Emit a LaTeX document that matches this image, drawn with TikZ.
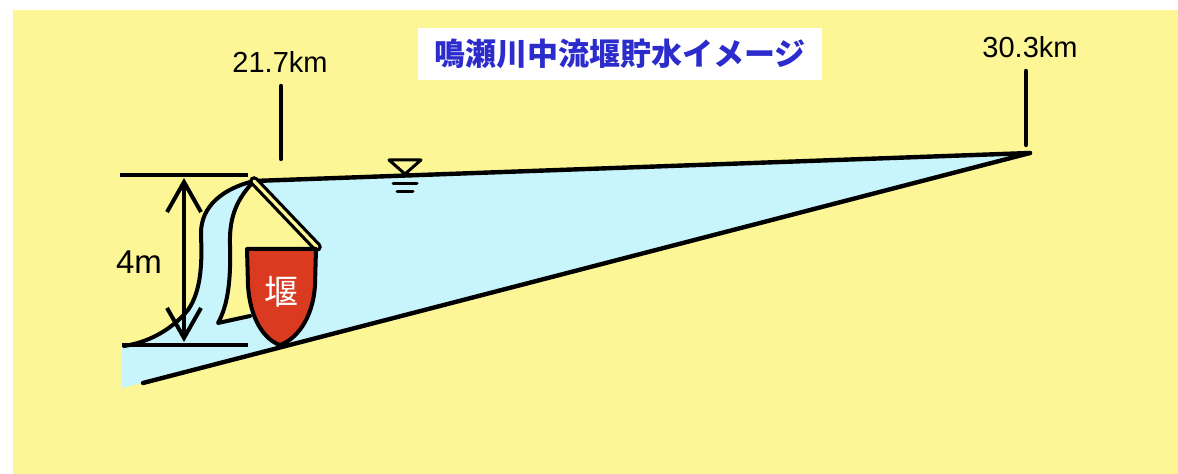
\documentclass[tikz,border=0pt]{standalone}
\usepackage{fontspec}
\setmainfont{Liberation Sans}
\newfontfamily\cjk{Noto Sans CJK JP}
\usetikzlibrary{arrows.meta}
\definecolor{sand}{RGB}{252,246,150}
\definecolor{water}{RGB}{200,244,251}
\definecolor{weirred}{RGB}{217,58,32}
\definecolor{titleblue}{RGB}{44,44,204}

\begin{document}
\begin{tikzpicture}[x=0.5pt,y=-0.5pt,
    line cap=round, line join=round,
    bank/.style={line width=2.2pt},
    bar/.style={line width=2.2pt, line cap=butt},
    label/.style={font=\fontsize{14.5}{16}\selectfont, inner sep=0pt}]

\useasboundingbox (0,0) rectangle (1178,474);
\fill[white] (0,0) rectangle (1178,474);
\fill[sand] (13,10) rectangle (1178,474);

\coordinate (crest) at (254,181);
\coordinate (head) at (1030,153);
\coordinate (toe) at (143,383);
\coordinate (gatefoot) at (317,247);

% reservoir and falling water
\fill[water] (122,388) -- (122,346) -- (124,346)
    .. controls (145,343) and (170,332) .. (188,310)
    .. controls (202,290) and (202,260) .. (201,235)
    .. controls (200,205) and (225,188) .. (crest)
    -- (head) -- cycle;

% weir body
\fill[sand] (crest) -- (gatefoot) -- (247,249) -- (250,316) -- (218,323)
    .. controls (228,305) and (231,280) .. (230,245)
    .. controls (229,215) and (238,198) .. (crest);

\draw[bank] (crest) -- (head);
\draw[bank] (toe) -- (head);

\draw[line width=2pt] (crest)
    .. controls (225,188) and (200,205) .. (201,235)
    .. controls (202,260) and (202,290) .. (188,310)
    .. controls (170,332) and (145,343) .. (124,346);
\draw[line width=2pt] (crest)
    .. controls (238,198) and (229,215) .. (230,245)
    .. controls (231,280) and (228,305) .. (218,323) -- (250,316);

\draw[line width=1.6pt, double=sand, double distance=1.6pt] (crest) -- (gatefoot);

\draw[fill=weirred, line width=2pt] (247,249) -- (248,285)
    .. controls (250,320) and (265,340) .. (280,345)
    .. controls (295,340) and (313,320) .. (315,285) -- (316,249) -- cycle;
\node[text=white, font=\cjk\fontsize{17}{17}\selectfont, inner sep=0pt] (weir) at (281,292) {堰};

% 4m height
\coordinate (bartop) at (184,175);
\coordinate (barbot) at (184,345);
\draw[bar] (120,175) -- (248,175);
\draw[bar] (122,345) -- (248,345);
\draw[line width=2pt, {Straight Barb[length=15pt,width=17pt]}-{Straight Barb[length=15pt,width=17pt]}]
    ([yshift=-1.5pt]bartop) -- ([yshift=1.5pt]barbot);
\node[font=\fontsize{16.5}{18}\selectfont, inner sep=0pt] (depth) at (139,262) {4m};

% chainage ticks
\node[label] (km1) at (280,62) {21.7km};
\node[label] (km2) at (1030,47) {30.3km};
\draw[bar, line cap=round] (281,86) -- (281,159);
\draw[bar, line cap=round] (1026,71) -- (1026,145);

% water level mark
\draw[line width=1.5pt, fill=sand] (389,160) -- (421,160) -- (405,174) -- cycle;
\draw[line width=1.5pt] (393,184) -- (417,184);
\draw[line width=1.5pt] (397,192) -- (413,192);

\node[fill=white, minimum width=202pt, minimum height=26pt, inner sep=0pt,
      text=titleblue, font=\cjk\bfseries\fontsize{15.5}{16}\selectfont] (title) at (620,54) {鳴瀬川中流堰貯水イメージ};

\end{tikzpicture}
\end{document}
